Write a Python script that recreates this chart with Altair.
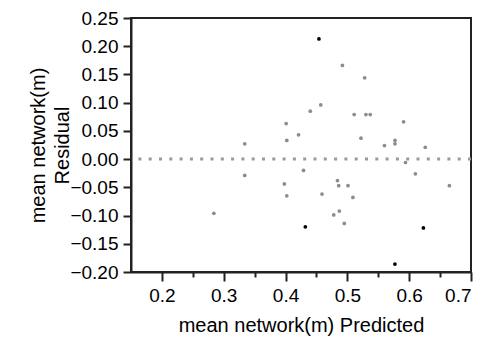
import altair as alt
import pandas as pd

pred = [0.492, 0.528, 0.457, 0.440, 0.511, 0.530, 0.537, 0.591, 0.401, 0.421,
        0.522, 0.402, 0.334, 0.560, 0.577, 0.577, 0.626, 0.594, 0.429, 0.610,
        0.334, 0.484, 0.486, 0.501, 0.665, 0.398, 0.459, 0.402, 0.509, 0.487,
        0.478, 0.495, 0.284,
        0.454, 0.432, 0.623, 0.577]
resid = [0.166, 0.144, 0.096, 0.085, 0.079, 0.079, 0.079, 0.066, 0.063, 0.043,
         0.037, 0.033, 0.027, 0.024, 0.033, 0.027, 0.021, -0.006, -0.020, -0.026,
         -0.029, -0.038, -0.047, -0.047, -0.047, -0.044, -0.062, -0.065, -0.068, -0.092,
         -0.099, -0.114, -0.096,
         0.213, -0.120, -0.122, -0.186]
kind = ["normal"] * 33 + ["highlight"] * 4

x_ticks = [0.2, 0.25, 0.3, 0.35, 0.4, 0.45, 0.5, 0.55, 0.6, 0.65, 0.7]
y_ticks = [0.25, 0.20, 0.15, 0.10, 0.05, 0.00, -0.05, -0.10, -0.15, -0.20]
zero = [0.0]

df = pd.DataFrame({"pred": pred, "resid": resid, "kind": kind})
zdf = pd.DataFrame({"z": zero})

FONT = "Liberation Sans"

xscale = alt.Scale(domain=[0.15, 0.7], nice=False, zero=False)
yscale = alt.Scale(domain=[-0.20, 0.25], nice=False, zero=False)

major_test = "abs(round(datum.value*10) - datum.value*10) < 0.001"

xaxis = alt.Axis(
    values=x_ticks,
    title="mean network(m) Predicted",
    labelExpr=f"({major_test}) ? format(datum.value, '.1f') : ''",
    labelOverlap=False,
    tickSize={"condition": {"test": major_test, "value": 9}, "value": 5},
    grid=False,
)
yaxis = alt.Axis(
    values=y_ticks,
    format=".2f",
    title=["mean network(m)", "Residual"],
    tickSize=8,
    grid=False,
    labelOverlap=False,
)

pts = alt.Chart(df).mark_circle(size=14, opacity=1).encode(
    x=alt.X("pred:Q", scale=xscale, axis=xaxis),
    y=alt.Y("resid:Q", scale=yscale, axis=yaxis),
    color=alt.Color("kind:N", scale=alt.Scale(domain=["normal", "highlight"],
                                              range=["#8c8c8c", "#000000"]),
                    legend=None),
)

zline = alt.Chart(zdf).mark_rule(color="#9a9a9a", strokeWidth=3,
                                 strokeDash=[3, 7.3]).encode(
    y=alt.Y("z:Q", scale=yscale, axis=yaxis),
)

chart = alt.layer(pts, zline).properties(
    width=340, height=254,
    padding={"left": 123, "top": 10, "right": 7, "bottom": 66},
    autosize=alt.AutoSizeParams(type="none"),
).configure_view(
    stroke="#222222", strokeWidth=2
).configure_axis(
    domainColor="#222222", domainWidth=2, tickColor="#222222", tickWidth=2,
    labelFont=FONT, labelFontSize=19, labelColor="#000000", labelPadding=5,
    titleFont=FONT, titleFontSize=20, titleFontWeight="normal", titleColor="#000000",
).configure_axisX(titlePadding=10, labelPadding=5).configure_axisY(
    titlePadding=-3, titleLineHeight=24)

chart.save("out.html", embed_options={"renderer": "svg", "actions": False})
